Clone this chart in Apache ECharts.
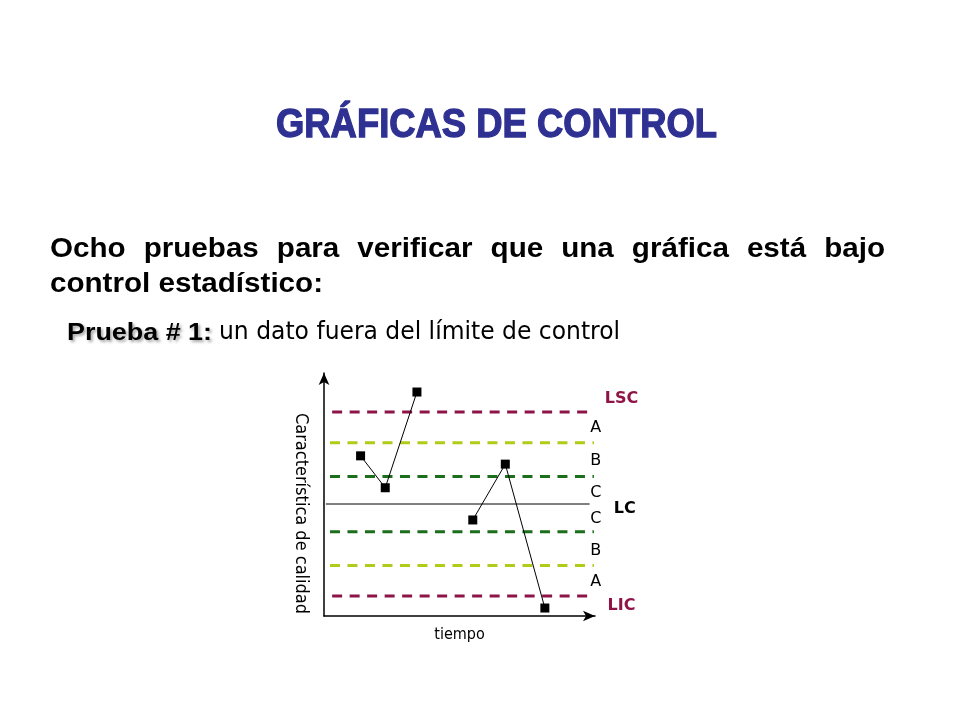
<!DOCTYPE html>
<html><head><meta charset="utf-8">
<script src="https://cdn.jsdelivr.net/npm/echarts@6/dist/echarts.min.js"></script>
<style>html,body{margin:0;padding:0;background:#fff}#c{width:960px;height:720px}</style>
</head><body><div id="c"></div>
<script>
// ---- texts ----
const titleText = 'GRÁFICAS DE CONTROL';
const introWords = ['Ocho','pruebas','para','verificar','que','una','gráfica','está','bajo'];
const introLine2 = 'control estadístico:';
const testLabel = 'Prueba # 1:';
const testText = 'un dato fuera del límite de control';
const yAxisName = 'Característica de calidad';
const xAxisName = 'tiempo';

// ---- control limits (sigma units, LC = 0) ----
const limitNames = ['LSC', 'LC', 'LIC'];
const limitValues = [3, 0, -3];
const limitLabelValues = [3.42, -0.17, -3.33];
const zoneLineValues = [2, 0.9, -0.9, -2];
const zoneLabels = ['A', 'B', 'C', 'C', 'B', 'A'];
const zoneLabelValues = [2.48, 1.41, 0.36, -0.47, -1.53, -2.54];

// ---- samples ----
const time1 = [1.35, 2.26, 3.43];
const value1 = [1.57, 0.53, 3.65];
const time2 = [5.49, 6.69, 8.15];
const value2 = [-0.52, 1.30, -3.39];

// ---- styles ----
const MAROON = '#8e1448';
const LIGHT_GREEN = '#b2cb18';
const DARK_GREEN = '#1a6e1c';
const BLUE = '#2e3192';
const DASH = [10, 7.5];
const zoneColors = [LIGHT_GREEN, DARK_GREEN, DARK_GREEN, LIGHT_GREEN];

const cv = document.createElement('canvas').getContext('2d');
function tw(text, size, family, weight) {
  cv.font = (weight || 'normal') + ' ' + size + 'px ' + family;
  return cv.measureText(text).width;
}
const SANS = '"Liberation Sans", Arial, sans-serif';
const TAHOMA = '"DejaVu Sans Condensed", "DejaVu Sans", sans-serif';
const VERD = '"DejaVu Sans", Verdana, sans-serif';

const graphics = [];
// title
const tSize = 40;
const tScale = 441 / tw(titleText, tSize, SANS, 'bold');
graphics.push({type: 'text', x: 496.5, y: 138.8 - 0.31 * tSize, scaleX: tScale,
  style: {text: titleText, fill: BLUE, stroke: BLUE, lineWidth: 1.3,
    fontSize: tSize, fontFamily: SANS, fontWeight: 'bold',
    textAlign: 'center', textVerticalAlign: 'middle'}});
// intro (justified)
const iSize = 27;
const iScale = 273 / tw(introLine2, iSize, SANS, 'bold');
const widths = introWords.map(w => tw(w, iSize, SANS, 'bold') * iScale);
const total = widths.reduce((a, b) => a + b, 0);
const gap = (885 - 50 - total) / (introWords.length - 1);
let cx = 50;
introWords.forEach((w, i) => {
  graphics.push({type: 'text', x: cx, y: 257.5 - 0.31 * iSize, scaleX: iScale,
    style: {text: w, fill: '#000', fontSize: iSize, fontFamily: SANS, fontWeight: 'bold',
      textAlign: 'left', textVerticalAlign: 'middle'}});
  cx += widths[i] + gap;
});
graphics.push({type: 'text', x: 50, y: 292.5 - 0.31 * iSize, scaleX: iScale,
  style: {text: introLine2, fill: '#000', fontSize: iSize, fontFamily: SANS, fontWeight: 'bold',
    textAlign: 'left', textVerticalAlign: 'middle'}});
// prueba line
const pSize = 24;
const pScale = 145 / tw(testLabel, pSize, SANS, 'bold');
graphics.push({type: 'text', x: 67, y: 340.5 - 0.31 * pSize, scaleX: pScale,
  style: {text: testLabel, fill: '#000', fontSize: pSize, fontFamily: SANS, fontWeight: 'bold',
    textAlign: 'left', textVerticalAlign: 'middle',
    textShadowColor: 'rgba(0,0,0,0.35)', textShadowBlur: 3, textShadowOffsetX: 2, textShadowOffsetY: 2}});
const uSize = 25;
const uScale = 401 / tw(testText, uSize, TAHOMA);
graphics.push({type: 'text', x: 219, y: 341 - 0.35 * uSize, scaleX: uScale,
  style: {text: testText, fill: '#000', fontSize: uSize, fontFamily: TAHOMA,
    textAlign: 'left', textVerticalAlign: 'middle'}});

// ---- series ----
const series = [];
[0, 2].forEach(i => {
  series.push({type: 'line', name: limitNames[i], silent: true, symbol: 'none', z: 2,
    data: [[0.3, limitValues[i]], [9.78, limitValues[i]]],
    lineStyle: {color: MAROON, width: 3, type: DASH}});
});
series.push({type: 'line', name: limitNames[1], silent: true, symbol: 'none', z: 2,
  data: [[0.07, limitValues[1]], [9.8, limitValues[1]]],
  lineStyle: {color: '#000', width: 1}});
zoneLineValues.forEach((v, i) => {
  series.push({type: 'line', silent: true, symbol: 'none', z: 2,
    data: [[0.22, v], [9.96, v]],
    lineStyle: {color: zoneColors[i], width: 3, type: DASH}});
});
[[time1, value1], [time2, value2]].forEach(([t, v]) => {
  series.push({type: 'line', z: 5, symbol: 'rect', symbolSize: 9,
    data: t.map((x, k) => [x, v[k]]),
    itemStyle: {color: '#000'}, lineStyle: {color: '#000', width: 1}});
});
series.push({type: 'scatter', clip: false, silent: true, symbolSize: 1, z: 6,
  itemStyle: {color: 'transparent', opacity: 1},
  data: zoneLabels.map((l, i) => ({value: [10.03, zoneLabelValues[i]], name: l})),
  label: {show: true, position: 'inside', formatter: p => p.name, opacity: 1,
    textBorderWidth: 0, color: '#000', fontSize: 16, fontFamily: VERD}});
series.push({type: 'scatter', clip: false, silent: true, symbolSize: 1, z: 6,
  itemStyle: {color: 'transparent', opacity: 1},
  data: limitNames.map((l, i) => ({
    value: [l === 'LC' ? 11.1 : 10.98, limitLabelValues[i]], name: l,
    label: {color: l === 'LC' ? '#000' : MAROON}})),
  label: {show: true, position: 'inside', formatter: p => p.name, opacity: 1,
    textBorderWidth: 0, fontSize: 16, fontWeight: 'bold', fontFamily: VERD}});

const chart = echarts.init(document.getElementById('c'));
chart.setOption({
  animation: false,
  backgroundColor: '#fff',
  graphic: graphics,
  grid: {left: 324, right: 365, top: 373, bottom: 104, containLabel: false},
  xAxis: {type: 'value', min: 0, max: 10,
    name: xAxisName, nameLocation: 'middle', nameGap: 11,
    nameTextStyle: {color: '#000', fontSize: 16, fontFamily: TAHOMA},
    axisLine: {show: true, onZero: false, symbol: ['none', 'arrow'], symbolSize: [8, 12],
      lineStyle: {color: '#000', width: 1.5}},
    axisTick: {show: false}, axisLabel: {show: false}, splitLine: {show: false}},
  yAxis: {type: 'value', min: -3.65, max: 4.27,
    name: yAxisName, nameLocation: 'middle', nameGap: 14, nameRotate: -90,
    nameTextStyle: {color: '#000', fontSize: 18, fontFamily: TAHOMA, padding: [0, 0, 0, 38]},
    axisLine: {show: true, onZero: false, symbol: ['none', 'arrow'], symbolSize: [8, 12],
      lineStyle: {color: '#000', width: 1.5}},
    axisTick: {show: false}, axisLabel: {show: false}, splitLine: {show: false}},
  series: series
});
</script>
</body></html>
